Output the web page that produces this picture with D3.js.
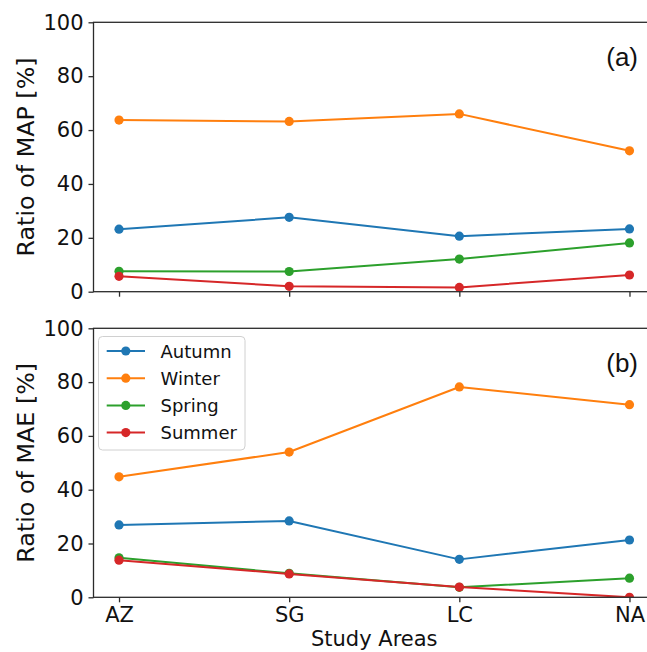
<!DOCTYPE html>
<html>
<head>
<meta charset="utf-8">
<script src="https://cdn.jsdelivr.net/npm/d3@7/dist/d3.min.js"></script>
<style>
  html, body { margin: 0; padding: 0; background: #fff; }
  svg { display: block; }
  text { font-family: "DejaVu Sans", sans-serif; fill: #111; }
</style>
</head>
<body>
<svg id="chart" width="647" height="652"></svg>
<script>
// Study areas along the x axis
const areas = ["AZ", "SG", "LC", "NA"];
const seasons = ["Autumn", "Winter", "Spring", "Summer"];
const seasonColors = ["#1f77b4", "#ff7f0e", "#2ca02c", "#d62728"];
const yTicks = [0, 20, 40, 60, 80, 100];

// Share of mean annual precipitation per season [%]
const mapAutumn = [23.2, 27.6, 20.6, 23.3];
const mapWinter = [63.7, 63.2, 66.0, 52.3];
const mapSpring = [7.6, 7.5, 12.1, 18.1];
const mapSummer = [5.7, 2.0, 1.6, 6.2];

// Share of mean annual erosivity per season [%]
const maeAutumn = [26.9, 28.4, 14.1, 21.3];
const maeWinter = [44.8, 54.0, 78.2, 71.6];
const maeSpring = [14.7, 8.9, 3.7, 7.1];
const maeSummer = [13.8, 8.7, 3.8, 0.0];

const panels = [
  { tag: "(a)", ylabel: "Ratio of MAP [%]", series: [mapAutumn, mapWinter, mapSpring, mapSummer], top: 22.3, bottom: 291.7, xLabels: false, legend: false },
  { tag: "(b)", ylabel: "Ratio of MAE [%]", series: [maeAutumn, maeWinter, maeSpring, maeSummer], top: 328.3, bottom: 597.3, xLabels: true, legend: true }
];

const svg = d3.select("#chart");
const left = 93.5, right = 655;
const x = d3.scaleLinear().domain([-0.15, areas.length - 1 + 0.15]).range([left, right]);
const axisColor = "#2b2b2b";
const tickFont = 21;

panels.forEach((p, pi) => {
  const y = d3.scaleLinear().domain([0, 100]).range([p.bottom, p.top]);
  const g = svg.append("g");

  const clipId = "clip" + pi;
  svg.append("clipPath").attr("id", clipId)
    .append("rect").attr("x", left).attr("y", p.top)
    .attr("width", right - left).attr("height", p.bottom - p.top);

  // series lines and markers
  const plot = g.append("g").attr("clip-path", `url(#${clipId})`);
  const line = d3.line().x((d, i) => x(i)).y(d => y(d));
  p.series.forEach((vals, si) => {
    plot.append("path").datum(vals)
      .attr("d", line).attr("fill", "none")
      .attr("stroke", seasonColors[si]).attr("stroke-width", 2)
      .attr("stroke-linejoin", "round");
    plot.selectAll(null).data(vals).enter().append("circle")
      .attr("cx", (d, i) => x(i)).attr("cy", d => y(d)).attr("r", 4.6)
      .attr("fill", seasonColors[si]);
  });

  // frame
  g.append("rect").attr("x", left).attr("y", p.top)
    .attr("width", right - left).attr("height", p.bottom - p.top)
    .attr("fill", "none").attr("stroke", axisColor).attr("stroke-width", 1.3);

  // y axis
  const yAxis = d3.axisLeft(y).tickValues(yTicks).tickSize(5).tickPadding(5);
  const ya = g.append("g").attr("transform", `translate(${left},0)`).call(yAxis);
  ya.select(".domain").remove();
  ya.selectAll("line").attr("stroke", axisColor).attr("stroke-width", 1.3);
  ya.selectAll("text").attr("font-size", tickFont).attr("font-family", "DejaVu Sans").attr("fill", "#111");

  // x axis
  const xAxis = d3.axisBottom(x).tickValues(d3.range(areas.length))
    .tickFormat(i => p.xLabels ? areas[i] : "").tickSize(5).tickPadding(5);
  const xa = g.append("g").attr("transform", `translate(0,${p.bottom})`).call(xAxis);
  xa.select(".domain").remove();
  xa.selectAll("line").attr("stroke", axisColor).attr("stroke-width", 1.3);
  xa.selectAll("text").attr("font-size", tickFont).attr("font-family", "DejaVu Sans").attr("fill", "#111");

  // y label
  const cy = (p.top + p.bottom) / 2;
  g.append("text").attr("transform", `translate(34,${cy}) rotate(-90)`)
    .attr("text-anchor", "middle").attr("font-size", 23.8).text(p.ylabel);

  // panel tag
  g.append("text").attr("x", 638).attr("y", p.top + 44)
    .attr("text-anchor", "end").attr("font-size", 26)
    .style("font-family", "'Liberation Sans', Arial, sans-serif").text(p.tag);

  if (p.legend) {
    const lg = g.append("g");
    lg.append("rect").attr("x", 98.5).attr("y", 336.5).attr("width", 146.5).attr("height", 113.5)
      .attr("rx", 4).attr("fill", "#fff").attr("fill-opacity", 0.8)
      .attr("stroke", "#d0d0d0").attr("stroke-width", 1);
    seasons.forEach((s, si) => {
      const ry = 351 + si * 27.2;
      lg.append("line").attr("x1", 106.7).attr("x2", 145).attr("y1", ry).attr("y2", ry)
        .attr("stroke", seasonColors[si]).attr("stroke-width", 2);
      lg.append("circle").attr("cx", 125.8).attr("cy", ry).attr("r", 4.6).attr("fill", seasonColors[si]);
      lg.append("text").attr("x", 160.5).attr("y", ry + 6.5).attr("font-size", 18).text(s);
    });
  }
});

// shared x label
svg.append("text").attr("x", (left + right) / 2).attr("y", 646)
  .attr("text-anchor", "middle").attr("font-size", 21).text("Study Areas");
</script>
</body>
</html>
